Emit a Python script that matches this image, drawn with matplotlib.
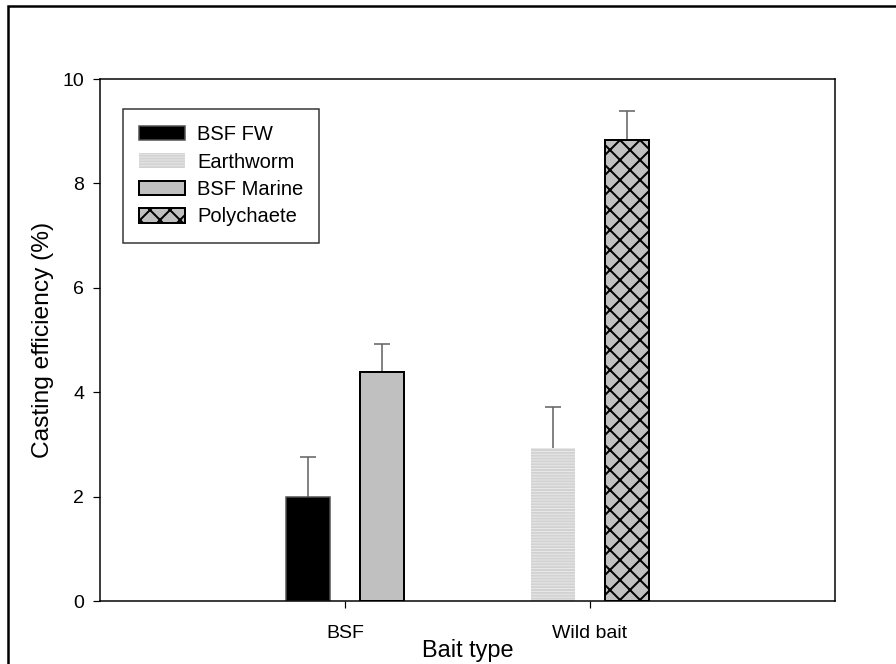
import matplotlib
matplotlib.use("Agg")
import matplotlib.pyplot as plt
import numpy as np
from matplotlib.patches import Rectangle, Patch

DPI = 120
def px(v):
    return v * 72.0 / DPI

plt.rcParams['font.family'] = ['Liberation Sans', 'DejaVu Sans']
plt.rcParams['hatch.linewidth'] = px(2.0)

groups = ["BSF", "Wild bait"]
series_labels = ["BSF FW", "Earthworm", "BSF Marine", "Polychaete"]
# first bar in each group, second bar in each group
first_vals = [2.0, 2.93]
first_errs = [0.75, 0.79]
second_vals = [4.39, 8.83]
second_errs = [0.54, 0.55]

fig = plt.figure(figsize=(896 / DPI, 664 / DPI), dpi=DPI)
ax = fig.add_axes([100 / 896, 1 - 601 / 664, 735 / 896, 522 / 664])

x = np.arange(len(groups))
w = 0.18
off = 0.15

first_face = ["black", "#ebebeb"]
first_edge = ["#505050", "#d2d2d2"]
first_hatch = [None, "-------"]
first_lw = [px(1.5), 0]
second_hatch = [None, "xx"]

# error bars (upper only)
for xs, vals, errs in [(x - off, first_vals, first_errs), (x + off, second_vals, second_errs)]:
    eb = ax.errorbar(xs, vals, yerr=[np.zeros(len(vals)), errs], fmt="none",
                     ecolor="#666666", elinewidth=px(1.6), capsize=px(8),
                     capthick=px(1.6), zorder=1)
    eb[1][0].set_visible(False)

for i in range(len(groups)):
    ax.bar(x[i] - off, first_vals[i], w, color=first_face[i], edgecolor=first_edge[i],
           linewidth=first_lw[i], hatch=first_hatch[i], zorder=2)
    ax.bar(x[i] + off, second_vals[i], w, color="#c0c0c0", edgecolor="black",
           linewidth=px(2), hatch=second_hatch[i], zorder=2)

ax.set_xlim(-1.0, 2.0)
ax.set_ylim(0, 10)
ax.set_yticks([0, 2, 4, 6, 8, 10])
ax.set_xticks(x)
ax.set_xticklabels(groups)
ax.tick_params(axis="both", direction="out", length=px(7), width=px(1.2), color="black",
               labelsize=px(19.5))
ax.tick_params(axis="y", pad=px(9))
ax.tick_params(axis="x", pad=px(17))
for s in ax.spines.values():
    s.set_linewidth(px(1.5))
    s.set_color("black")

ax.set_xlabel("Bait type", fontsize=px(23.5), labelpad=px(-3))
ax.set_ylabel("Casting efficiency (%)", fontsize=px(24.5), labelpad=px(8))

handles = [
    Patch(facecolor="black", edgecolor="#505050", linewidth=px(1.5)),
    Patch(facecolor="#ebebeb", edgecolor="#d2d2d2", linewidth=0, hatch="-------"),
    Patch(facecolor="#c0c0c0", edgecolor="black", linewidth=px(2)),
    Patch(facecolor="#c0c0c0", edgecolor="black", linewidth=px(2), hatch="xx"),
]
leg = ax.legend(handles, series_labels, loc="upper left", bbox_to_anchor=(0.031, 0.9425),
                borderaxespad=0, fontsize=px(20.1), frameon=True, fancybox=False,
                edgecolor="black", handlelength=2.3, handleheight=0.75,
                handletextpad=0.6, labelspacing=0.42, borderpad=0.8)
leg.get_frame().set_linewidth(px(1.5))

# outer frame of the figure (only top and left visible)
fig.patches.append(Rectangle((8 / 896, -0.1), 1.2, 1 - 6 / 664 + 0.1,
                             transform=fig.transFigure, fill=False,
                             edgecolor="black", linewidth=px(2.5), clip_on=False))

fig.savefig("out.png", dpi=DPI)
